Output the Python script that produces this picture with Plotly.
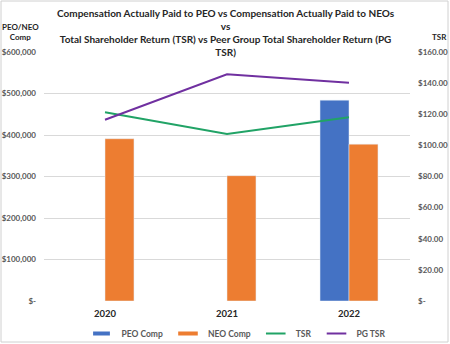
import plotly.graph_objects as go

# Fiscal years and series values
years = ["2020", "2021", "2022"]
peo_comp = [None, None, 484000]
neo_comp = [391000, 302000, 378000]
tsr = [121.3, 107.3, 118.1]
pg_tsr = [116.5, 145.7, 140.3]

comp_ticks = [0, 100000, 200000, 300000, 400000, 500000, 600000]
comp_labels = ["$-", "$100,000", "$200,000", "$300,000", "$400,000", "$500,000", "$600,000"]
tsr_ticks = [0, 20, 40, 60, 80, 100, 120, 140, 160]
tsr_labels = ["$-", "$20.00", "$40.00", "$60.00", "$80.00", "$100.00", "$120.00", "$140.00", "$160.00"]

series_names = ["PEO Comp", "NEO Comp", "TSR", "PG TSR"]
series_colors = ["#4472C4", "#ED7D31", "#21A366", "#7030A0"]

W, H = 450, 344
ML, MR, MT, MB = 44, 40, 52, 43
PW, PH = W - ML - MR, H - MT - MB

FONT = "Lato"
GREY = "#595959"
DARK = "#262626"


def px_x(px):
    return (px - ML) / PW


def px_y(px):
    return (H - MB - px) / PH


fig = go.Figure()
fig.add_trace(go.Bar(x=years, y=peo_comp, name=series_names[0],
                     marker_color=series_colors[0], showlegend=False))
fig.add_trace(go.Bar(x=years, y=neo_comp, name=series_names[1],
                     marker_color=series_colors[1], showlegend=False))
fig.add_trace(go.Scatter(x=years, y=tsr, name=series_names[2], mode="lines",
                         line=dict(color=series_colors[2], width=2), yaxis="y2",
                         showlegend=False))
fig.add_trace(go.Scatter(x=years, y=pg_tsr, name=series_names[3], mode="lines",
                         line=dict(color=series_colors[3], width=2), yaxis="y2",
                         showlegend=False))

# Legend keys: flat bars for the columns, thin dashes for the lines
for name, color, thick, size in zip(series_names, series_colors, [4, 4, 2, 2], [12, 14, 14, 14]):
    fig.add_trace(go.Scatter(
        x=[None], y=[None], name=name, mode="markers",
        marker=dict(symbol="line-ew", size=size, line=dict(color=color, width=thick)),
        showlegend=True,
    ))

fig.update_layout(
    width=W, height=H,
    margin=dict(l=ML, r=MR, t=MT, b=MB, autoexpand=False),
    paper_bgcolor="white", plot_bgcolor="white",
    barmode="group", bargap=0.525, bargroupgap=0,
    font=dict(family=FONT, color=GREY, size=8),
    xaxis=dict(
        type="category", showgrid=False, showline=False, ticks="",
        ticklabelstandoff=5,
        tickfont=dict(size=9.5, color=DARK, weight="bold"),
    ),
    yaxis=dict(
        range=[0, 600000], tickvals=comp_ticks, ticktext=comp_labels,
        showgrid=True, gridcolor="#D9D9D9", gridwidth=1, zeroline=False,
        showline=False, ticks="", ticklabelstandoff=7,
        tickfont=dict(size=8, color=GREY, weight="bold"),
    ),
    yaxis2=dict(
        range=[0, 160], tickvals=tsr_ticks, ticktext=tsr_labels,
        overlaying="y", side="right", showgrid=False, zeroline=False,
        showline=False, ticks="", ticklabelstandoff=7,
        tickfont=dict(size=8, color=GREY, weight="bold"),
    ),
    legend=dict(
        orientation="h", x=px_x(236), xanchor="center",
        y=px_y(319), yanchor="top",
        itemwidth=30, tracegroupgap=0,
        font=dict(size=8.5, color=GREY, weight="bold"),
        traceorder="normal", bgcolor="rgba(0,0,0,0)",
    ),
    showlegend=True,
)

# Chart title
fig.add_annotation(
    text="Compensation Actually Paid to PEO vs Compensation Actually Paid to NEOs"
         "<br>vs<br>Total Shareholder Return (TSR) vs Peer Group Total Shareholder Return (PG"
         "<br>TSR)",
    xref="paper", yref="paper", x=px_x(226), y=px_y(5),
    xanchor="center", yanchor="top", showarrow=False, align="center",
    font=dict(family=FONT, size=10, color=DARK, weight="bold"),
)

# Axis titles
fig.add_annotation(text="PEO/NEO<br>Comp", xref="paper", yref="paper",
                   x=px_x(20), y=px_y(20), xanchor="center", yanchor="top",
                   showarrow=False, align="center",
                   font=dict(size=8, color=DARK, weight="bold"))
fig.add_annotation(text="TSR", xref="paper", yref="paper",
                   x=px_x(439), y=px_y(30), xanchor="center", yanchor="top",
                   showarrow=False,
                   font=dict(size=8, color=DARK, weight="bold"))

# Chart frame
fig.add_shape(type="rect", xref="paper", yref="paper",
              x0=px_x(1), x1=px_x(W - 2),
              y0=px_y(H - 2), y1=px_y(1),
              line=dict(color="#D0D0D0", width=1), fillcolor="rgba(0,0,0,0)", layer="below")

fig.write_html("out.html")
